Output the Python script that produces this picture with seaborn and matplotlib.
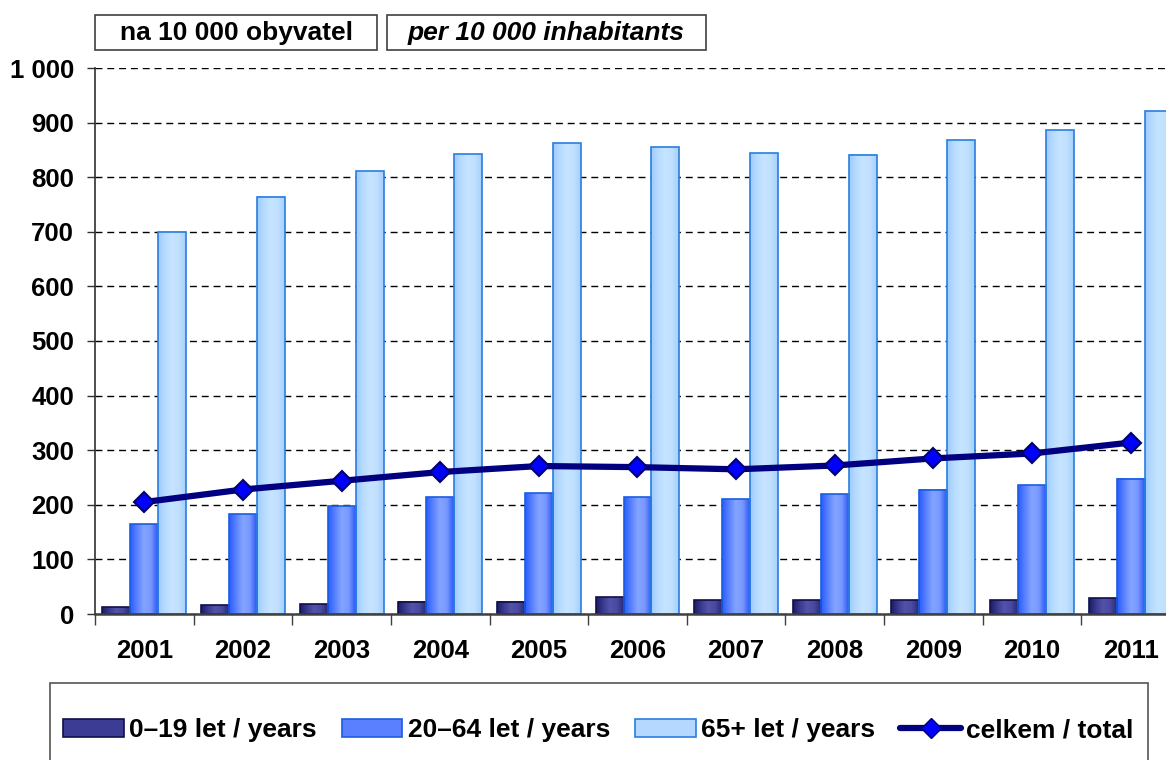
import numpy as np
import pandas as pd
import matplotlib
matplotlib.use("Agg")
import matplotlib.pyplot as plt
import seaborn as sns
from matplotlib.colors import LinearSegmentedColormap
from matplotlib.patches import Rectangle, Patch
from matplotlib.lines import Line2D
from matplotlib.ticker import FixedLocator, FuncFormatter

# --- data: rate per 10 000 inhabitants by age group ---
years = ["2001", "2002", "2003", "2004", "2005", "2006",
         "2007", "2008", "2009", "2010", "2011"]
age_0_19 = [12, 16, 18, 22, 22, 31, 25, 25, 25, 25, 29]
age_20_64 = [164, 183, 197, 214, 221, 214, 210, 219, 228, 236, 248]
age_65_plus = [700, 764, 811, 842, 862, 855, 844, 841, 868, 886, 921]
total = [205, 228, 244, 260, 271, 269, 265, 272, 285, 294, 314]

group_labels = ["0–19 let / years", "20–64 let / years", "65+ let / years"]
total_label = "celkem / total"
header_cz = "na 10 000 obyvatel"
header_en = "per 10 000 inhabitants"

# --- styling ---
sns.set_theme(style="white")
plt.rcParams["font.family"] = ["Liberation Sans", "DejaVu Sans"]
plt.rcParams["font.weight"] = "bold"
plt.rcParams["text.color"] = "black"
plt.rcParams["xtick.labelcolor"] = "black"
plt.rcParams["ytick.labelcolor"] = "black"
FS_TICK = 18.5
FS_TEXT = 19

W, H = 1166, 760
fig = plt.figure(figsize=(W / 100, H / 100), dpi=100)
ax = fig.add_axes([95 / W, 146 / H, (1180 - 95) / W, (614 - 68) / H])

df = pd.DataFrame({
    "year": years * 3,
    "group": sum([[g] * len(years) for g in group_labels], []),
    "value": age_0_19 + age_20_64 + age_65_plus,
})

mid_colors = ["#3c3c94", "#5a80ff", "#b4d8ff"]
edge_colors = ["#10104a", "#1a5ee0", "#2a7ee0"]
gradients = [
    ["#1c1c68", "#3a3a8e", "#5252aa", "#4a4aa2", "#2a2a78"],
    ["#2a5cff", "#5a82ff", "#84a4ff", "#7898ff", "#2c58f4"],
    ["#9ccaff", "#b8dcff", "#c6e4ff", "#c0e0ff", "#a6d0fc"],
]

sns.barplot(data=df, x="year", y="value", hue="group", hue_order=group_labels,
            palette=mid_colors, width=0.85, saturation=1, legend=False,
            ax=ax, zorder=2)

# horizontal shading inside each bar
for cont, stops, ec in zip(ax.containers, gradients, edge_colors):
    cmap = LinearSegmentedColormap.from_list("shade", stops)
    grad = np.linspace(0, 1, 64)[np.newaxis, :]
    for bar in cont:
        x0 = bar.get_x()
        w = bar.get_width()
        h = bar.get_height()
        ax.imshow(grad, cmap=cmap, extent=[x0, x0 + w, 0, h],
                  aspect="auto", zorder=2.1, interpolation="bilinear")
        bar.set_facecolor("none")
        bar.set_edgecolor(ec)
        bar.set_linewidth(1.2)
        bar.set_zorder(2.2)

sns.pointplot(x=years, y=total, color="#000080", markers="D", errorbar=None,
              ax=ax, linewidth=4.5, markersize=10, markerfacecolor="#0000ff",
              markeredgecolor="#000070", markeredgewidth=1.5, zorder=4)

# axes
ax.set_xlim(-0.5, len(years) - 0.5)
ax.set_ylim(0, 1000)
ax.set_xlabel("")
ax.set_ylabel("")
ax.yaxis.set_major_locator(FixedLocator(np.arange(0, 1001, 100)))
ax.yaxis.set_major_formatter(FuncFormatter(lambda v, p: f"{int(v):,}".replace(",", " ")))
ax.set_xticks(range(len(years)))
ax.set_xticklabels(years)
ax.xaxis.set_minor_locator(FixedLocator(np.arange(-0.5, len(years), 1.0)))

ax.grid(False)
ax.yaxis.grid(True, color="black", linestyle=(0, (5, 3.5)), linewidth=1)
ax.set_axisbelow(True)
for side in ["top", "right"]:
    ax.spines[side].set_visible(False)
ax.spines["left"].set_color("#303030")
ax.spines["left"].set_linewidth(1.2)
ax.spines["bottom"].set_color("#404040")
ax.spines["bottom"].set_linewidth(1.8)
ax.spines["bottom"].set_zorder(5)

ax.tick_params(axis="y", which="major", direction="out", length=6, width=1,
               color="#303030", pad=9, labelsize=FS_TICK, labelcolor="black",
               left=True)
ax.tick_params(axis="x", which="major", length=0, pad=18, labelsize=FS_TICK,
               labelcolor="black", bottom=True)
ax.tick_params(axis="x", which="minor", direction="out", length=8, width=1,
               color="#404040", bottom=True)
for lab in ax.get_xticklabels() + ax.get_yticklabels():
    lab.set_fontweight("bold")

# header boxes
def header_box(x0, x1, text, style):
    fig.add_artist(Rectangle((x0 / W, 1 - 50 / H), (x1 - x0) / W, 35 / H,
                             transform=fig.transFigure, fill=False,
                             edgecolor="#404040", linewidth=1.2))
    fig.text((x0 + x1) / 2 / W, 1 - 33 / H, text, ha="center", va="center",
             fontsize=FS_TEXT, fontweight="bold", fontstyle=style, color="black")

header_box(95, 377, header_cz, "normal")
header_box(387, 706, header_en, "italic")

# legend frame (runs off the bottom edge)
fig.add_artist(Rectangle((50 / W, -5 / H), (1148 - 50) / W, (760 - 683 + 5) / H,
                         transform=fig.transFigure, fill=False,
                         edgecolor="#555555", linewidth=1.2))

handles = [Patch(facecolor=c, edgecolor=e, linewidth=1.2)
           for c, e in zip(mid_colors, edge_colors)]
handles.append(Line2D([], [], color="#000080", linewidth=4.5, marker="D",
                      markersize=10, markerfacecolor="#0000ff",
                      markeredgecolor="#000070"))
leg = fig.legend(handles, group_labels + [total_label], loc="center left",
                 bbox_to_anchor=(63 / W, 1 - 730 / H),
                 ncol=4, frameon=False, borderaxespad=0, borderpad=0,
                 handlelength=2.3, handleheight=0.65, handletextpad=0.2,
                 columnspacing=0.95, labelcolor="black",
                 prop={"weight": "bold", "size": FS_TEXT})

fig.savefig("out.png", dpi=100)
